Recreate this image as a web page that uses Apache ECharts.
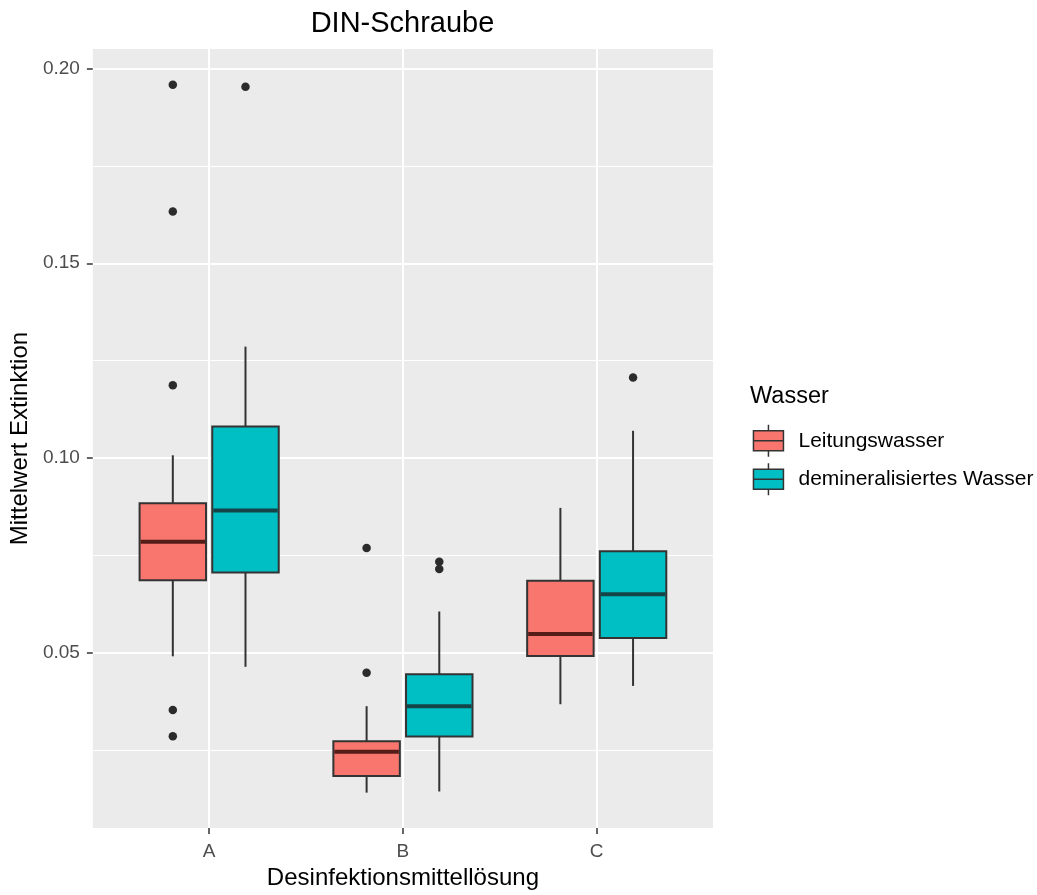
<!DOCTYPE html>
<html>
<head>
<meta charset="utf-8">
<title>DIN-Schraube</title>
<script src="https://cdn.jsdelivr.net/npm/echarts@6/dist/echarts.min.js"></script>
<style>
  html, body { margin: 0; padding: 0; background: #ffffff; }
  #chart { width: 1037px; height: 895px; }
</style>
</head>
<body>
<div id="chart"></div>
<script>
// Disinfectant solutions on the x axis
const categories = ['A', 'B', 'C'];
// Water types (legend entries)
const waterTypes = ['Leitungswasser', 'demineralisiertes Wasser'];
const fillColors = ['#F8766D', '#00BFC4'];
const medianColors = ['#561d18', '#144447'];

// Box statistics per solution: [min, Q1, median, Q3, max]
const leitungStats = [
  [0.0491, 0.0686, 0.0785, 0.0884, 0.1007],
  [0.0141, 0.0184, 0.0246, 0.0273, 0.0363],
  [0.0368, 0.0492, 0.0548, 0.0685, 0.0872]
];
const deminStats = [
  [0.0464, 0.0706, 0.0865, 0.1081, 0.1286],
  [0.0144, 0.0285, 0.0363, 0.0445, 0.0606],
  [0.0415, 0.0538, 0.0650, 0.0761, 0.1070]
];

// Outliers per solution
const leitungOutliers = [
  [0.1958, 0.1633, 0.1187, 0.0353, 0.0286],
  [0.0769, 0.0449],
  []
];
const deminOutliers = [
  [0.1953],
  [0.0734, 0.0715],
  [0.1207]
];

// Y axis tick labels (major grid) and the minor grid half-way below each
const yTicks = [0.05, 0.10, 0.15, 0.20];
const yMinor = yTicks.map(function (v) { return +(v - 0.025).toFixed(3); });
const xTicks = categories.map(function (c, i) { return i + 1; });

// Dodging of the two water types within a solution (in category units)
const DODGE = [-0.1875, 0.1875];
const BOX_WIDTH = 0.343;

const statsBySeries = [leitungStats, deminStats];
const outliersBySeries = [leitungOutliers, deminOutliers];

const FONT = '"Liberation Sans", Arial, sans-serif';
const INK = '#333333';

function boxData(s) {
  return statsBySeries[s].map(function (st, i) {
    return [i + 1 + DODGE[s]].concat(st);
  });
}

function outlierData(s) {
  const out = [];
  outliersBySeries[s].forEach(function (vals, i) {
    vals.forEach(function (v) { out.push([i + 1 + DODGE[s], v]); });
  });
  return out;
}

function boxRenderer(s) {
  return function (params, api) {
    const pos = api.value(0);
    const half = api.size([BOX_WIDTH, 0])[0] / 2;
    const lo = api.coord([pos, api.value(1)]);
    const q1 = api.coord([pos, api.value(2)]);
    const med = api.coord([pos, api.value(3)]);
    const q3 = api.coord([pos, api.value(4)]);
    const hi = api.coord([pos, api.value(5)]);
    const cx = q3[0];
    const lineStyle = { stroke: INK, lineWidth: 2 };
    return {
      type: 'group',
      children: [
        { type: 'line', shape: { x1: cx, y1: hi[1], x2: cx, y2: q3[1] }, style: lineStyle },
        { type: 'line', shape: { x1: cx, y1: q1[1], x2: cx, y2: lo[1] }, style: lineStyle },
        {
          type: 'rect',
          shape: { x: cx - half, y: q3[1], width: half * 2, height: q1[1] - q3[1] },
          style: { fill: fillColors[s], stroke: INK, lineWidth: 2 }
        },
        {
          type: 'line',
          shape: { x1: cx - half + 1, y1: med[1], x2: cx + half - 1, y2: med[1] },
          style: { stroke: medianColors[s], lineWidth: 4 }
        }
      ]
    };
  };
}

// Panel grid lines, drawn beneath the boxes
const gridLines = []
  .concat(yMinor.map(function (v) { return { yAxis: v, lineStyle: { width: 1 } }; }))
  .concat(yTicks.map(function (v) { return { yAxis: v, lineStyle: { width: 2 } }; }))
  .concat(xTicks.map(function (v) { return { xAxis: v, lineStyle: { width: 2 } }; }));

const series = [{
  name: 'grid',
  type: 'line',
  data: [],
  silent: true,
  z: 1,
  markLine: {
    silent: true,
    z: 1,
    precision: 4,
    animation: false,
    symbol: ['none', 'none'],
    label: { show: false },
    emphasis: { disabled: true },
    lineStyle: { color: '#ffffff', type: 'solid', opacity: 1 },
    data: gridLines
  }
}];
[0, 1].forEach(function (s) {
  series.push({
    name: waterTypes[s],
    type: 'custom',
    renderItem: boxRenderer(s),
    itemStyle: { color: fillColors[s] },
    encode: { x: 0, y: [1, 2, 3, 4, 5] },
    data: boxData(s),
    z: 3
  });
});
[0, 1].forEach(function (s) {
  series.push({
    name: waterTypes[s],
    type: 'scatter',
    symbol: 'circle',
    symbolSize: 8.5,
    itemStyle: { color: '#2b2b2b', opacity: 1 },
    data: outlierData(s),
    z: 4
  });
});

const boxIcon = 'path://M15,0 L15,6 M0,6 L30,6 L30,26 L0,26 Z M0,16 L30,16 M15,26 L15,32';

const chart = echarts.init(document.getElementById('chart'), null, { renderer: 'canvas' });
chart.setOption({
  backgroundColor: '#ffffff',
  animation: false,
  textStyle: { fontFamily: FONT },
  title: [
    {
      text: 'DIN-Schraube',
      left: 402.5,
      top: 9,
      textAlign: 'center',
      padding: 0,
      textStyle: { fontFamily: FONT, fontSize: 29, fontWeight: 'normal', color: '#000000' }
    },
    {
      text: 'Wasser',
      left: 750,
      top: 385,
      padding: 0,
      textStyle: { fontFamily: FONT, fontSize: 23.5, fontWeight: 'normal', color: '#000000' }
    }
  ],
  legend: {
    orient: 'vertical',
    left: 752.7,
    top: 424,
    padding: 0,
    itemWidth: 30,
    itemHeight: 32,
    itemGap: 5,
    data: waterTypes.map(function (n) { return { name: n, icon: boxIcon }; }),
    itemStyle: { borderColor: INK, borderWidth: 1.5 },
    textStyle: { fontFamily: FONT, fontSize: 21, color: '#000000', padding: [0, 0, 0, 10] },
    selectedMode: false
  },
  grid: {
    left: 92,
    right: 324,
    top: 49,
    bottom: 65,
    show: true,
    backgroundColor: '#EBEBEB',
    borderWidth: 0,
    containLabel: false
  },
  xAxis: {
    type: 'value',
    min: 0.4,
    max: 3.6,
    name: 'Desinfektionsmittellösung',
    nameLocation: 'middle',
    nameGap: 36,
    nameTextStyle: { fontFamily: FONT, fontSize: 24, color: '#000000' },
    axisLine: { show: false },
    axisTick: { show: true, length: 6, customValues: xTicks, lineStyle: { color: INK, width: 1.5 } },
    axisLabel: {
      customValues: xTicks,
      margin: 14,
      fontFamily: FONT,
      fontSize: 19,
      color: '#4D4D4D',
      formatter: function (v) { return categories[Math.round(v) - 1] || ''; }
    },
    splitLine: { show: false },
    minorSplitLine: { show: false }
  },
  yAxis: {
    type: 'value',
    min: 0.005,
    max: 0.205,
    name: 'Mittelwert Extinktion',
    nameLocation: 'middle',
    nameGap: 46,
    nameTextStyle: { fontFamily: FONT, fontSize: 24, color: '#000000' },
    axisLine: { show: false },
    axisTick: { show: true, length: 6, customValues: yTicks, lineStyle: { color: INK, width: 1.5 } },
    axisLabel: {
      customValues: yTicks,
      margin: 13,
      fontFamily: FONT,
      fontSize: 19,
      color: '#4D4D4D',
      formatter: function (v) { return v.toFixed(2); }
    },
    splitLine: { show: false },
    minorSplitLine: { show: false }
  },
  series: series
});
</script>
</body>
</html>
